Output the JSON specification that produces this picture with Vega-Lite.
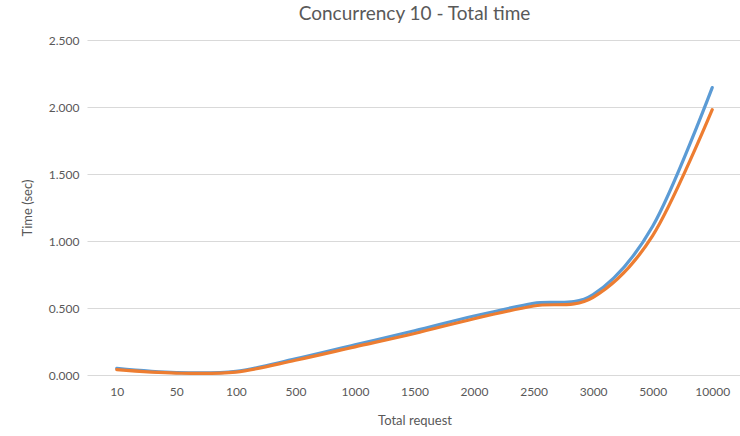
{
  "$schema": "https://vega.github.io/schema/vega-lite/v6.json",
  "autosize": {"type": "fit", "contains": "padding"},
  "width": 740,
  "height": 436,
  "padding": {"left": 21, "right": -2, "top": 5, "bottom": 9},
  "background": "white",
  "title": {"text": "Concurrency 10 - Total time", "font": "Lato", "fontSize": 19, "fontWeight": "normal", "color": "#595959", "offset": 10},
  "data": {"values": [
    {"req": "10", "series": "A", "time": 0.05},
    {"req": "50", "series": "A", "time": 0.018},
    {"req": "100", "series": "A", "time": 0.027},
    {"req": "500", "series": "A", "time": 0.12},
    {"req": "1000", "series": "A", "time": 0.225},
    {"req": "1500", "series": "A", "time": 0.33},
    {"req": "2000", "series": "A", "time": 0.44},
    {"req": "2500", "series": "A", "time": 0.535},
    {"req": "3000", "series": "A", "time": 0.6},
    {"req": "5000", "series": "A", "time": 1.11},
    {"req": "10000", "series": "A", "time": 2.145},
    {"req": "10", "series": "B", "time": 0.04},
    {"req": "50", "series": "B", "time": 0.014},
    {"req": "100", "series": "B", "time": 0.022},
    {"req": "500", "series": "B", "time": 0.11},
    {"req": "1000", "series": "B", "time": 0.21},
    {"req": "1500", "series": "B", "time": 0.31},
    {"req": "2000", "series": "B", "time": 0.42},
    {"req": "2500", "series": "B", "time": 0.515},
    {"req": "3000", "series": "B", "time": 0.58},
    {"req": "5000", "series": "B", "time": 1.04},
    {"req": "10000", "series": "B", "time": 1.98}
  ]},
  "mark": {"type": "line", "interpolate": "cardinal", "strokeWidth": 3.2, "strokeCap": "round"},
  "encoding": {
    "x": {
      "field": "req", "type": "ordinal",
      "sort": ["10","50","100","500","1000","1500","2000","2500","3000","5000","10000"],
      "scale": {"type": "point", "padding": 0.5},
      "axis": {"title": "Total request", "labelAngle": 0, "domain": false, "ticks": false, "grid": false,
               "labelFont": "Lato", "labelFontSize": 12, "labelColor": "#595959", "labelPadding": 11,
               "titleFont": "Lato", "titleFontSize": 13, "titleFontWeight": "normal", "titleColor": "#595959", "titlePadding": 17}
    },
    "y": {
      "field": "time", "type": "quantitative",
      "scale": {"domain": [0, 2.5], "nice": false},
      "axis": {"title": "Time (sec)", "format": ".3f", "values": [0, 0.5, 1, 1.5, 2, 2.5], "domain": false, "ticks": false,
               "gridColor": "#d9d9d9", "gridWidth": 1,
               "labelFont": "Lato", "labelFontSize": 12, "labelColor": "#595959", "labelPadding": 8,
               "titleFont": "Lato", "titleFontSize": 13, "titleFontWeight": "normal", "titleColor": "#595959", "titlePadding": 14}
    },
    "color": {
      "field": "series", "type": "nominal",
      "scale": {"domain": ["A", "B"], "range": ["#5B9BD5", "#ED7D31"]},
      "legend": null
    }
  },
  "config": {"view": {"stroke": null}}
}
